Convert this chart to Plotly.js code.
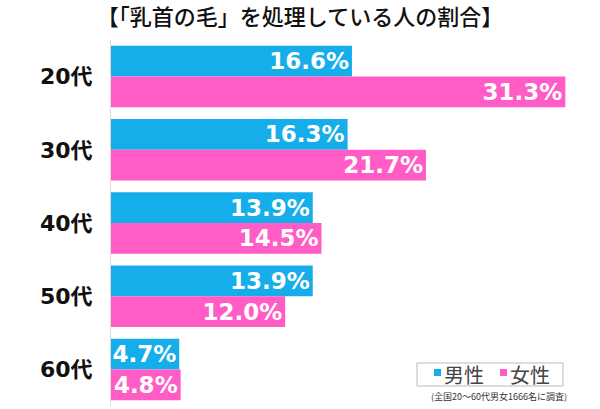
<!DOCTYPE html>
<html><head><meta charset="utf-8">
<script src="https://cdn.plot.ly/plotly-3.0.1.min.js"></script>
<style>html,body{margin:0;padding:0;background:#fff}</style>
</head><body>
<div id="chart" style="width:600px;height:409px"></div>
<script>
const categories = ["20代", "30代", "40代", "50代", "60代"];
const male = [16.6, 16.3, 13.9, 13.9, 4.7];
const female = [31.3, 21.7, 14.5, 12.0, 4.8];
const seriesNames = ["男性", "女性"];
const seriesColors = ["#16aeea", "#ff5cc6"];
const titleText = "【「乳首の毛」を処理している人の割合】";
const noteText = "(全国20～60代男女1666名に調査)";

const W = 600, H = 409, M = {l: 111, r: 10, t: 40, b: 3};
const pw = W - M.l - M.r, ph = H - M.t - M.b;
const fx = px => (px - M.l) / pw;
const fy = py => (H - M.b - py) / ph;

const cjk = "'Noto Sans CJK JP', 'Noto Sans', sans-serif";
const numFam = "'DejaVu Sans', 'Noto Sans CJK JP', sans-serif";
const labelFont = {family: numFam, size: 23, color: "#ffffff", weight: 700};

function bar(vals, name, color) {
  return {
    type: "bar", orientation: "h", y: categories, x: vals, name: name,
    marker: {color: color, line: {width: 0}},
    text: vals.map(v => v.toFixed(1) + "%"),
    textposition: "inside", insidetextanchor: "end", constraintext: "none",
    textfont: labelFont, cliponaxis: false, hoverinfo: "none", showlegend: false
  };
}

const data = [bar(male, seriesNames[0], seriesColors[0]), bar(female, seriesNames[1], seriesColors[1])];

// manual legend box
const legBox = {x0: 417, x1: 563, y0: 363, y1: 386};
const legItems = [{sq: 434, tx: 442}, {sq: 500, tx: 508}];
const shapes = [{type: "rect", xref: "paper", yref: "paper",
  x0: fx(legBox.x0), x1: fx(legBox.x1), y0: fy(legBox.y1), y1: fy(legBox.y0),
  line: {color: "#bbbbbb", width: 1}, fillcolor: "rgba(255,255,255,0)"}];
const annotations = [];
legItems.forEach((it, i) => {
  shapes.push({type: "rect", xref: "paper", yref: "paper",
    x0: fx(it.sq), x1: fx(it.sq + 7), y0: fy(376), y1: fy(369),
    line: {width: 0}, fillcolor: seriesColors[i]});
  annotations.push({text: seriesNames[i], xref: "paper", yref: "paper",
    x: fx(it.tx), y: fy(374), xanchor: "left", yanchor: "middle", showarrow: false,
    font: {family: cjk, size: 20, color: "#444"}});
});
annotations.push({text: noteText, xref: "paper", yref: "paper", x: fx(499), y: fy(396),
  xanchor: "center", yanchor: "middle", showarrow: false,
  font: {family: cjk, size: 9, color: "#333"}});

const layout = {
  width: W, height: H, margin: M,
  paper_bgcolor: "#fff", plot_bgcolor: "#fff",
  barmode: "group", bargap: 0.16, bargroupgap: 0,
  title: {text: titleText, x: 0.5, xanchor: "center", y: 1 - 17 / H, yanchor: "middle",
          font: {family: cjk, size: 22, color: "#111", weight: 500}},
  xaxis: {range: [0, 33], visible: false, fixedrange: true},
  yaxis: {type: "category", autorange: "reversed", showgrid: false, zeroline: false,
          showline: true, linecolor: "#dddddd", linewidth: 1, ticks: "",
          ticklabelstandoff: 13,
          tickfont: {family: numFam, size: 22, color: "#111", weight: 700}},
  showlegend: false,
  shapes: shapes,
  annotations: annotations
};

Plotly.newPlot("chart", data, layout, {displayModeBar: false, staticPlot: true});
</script>
</body></html>
